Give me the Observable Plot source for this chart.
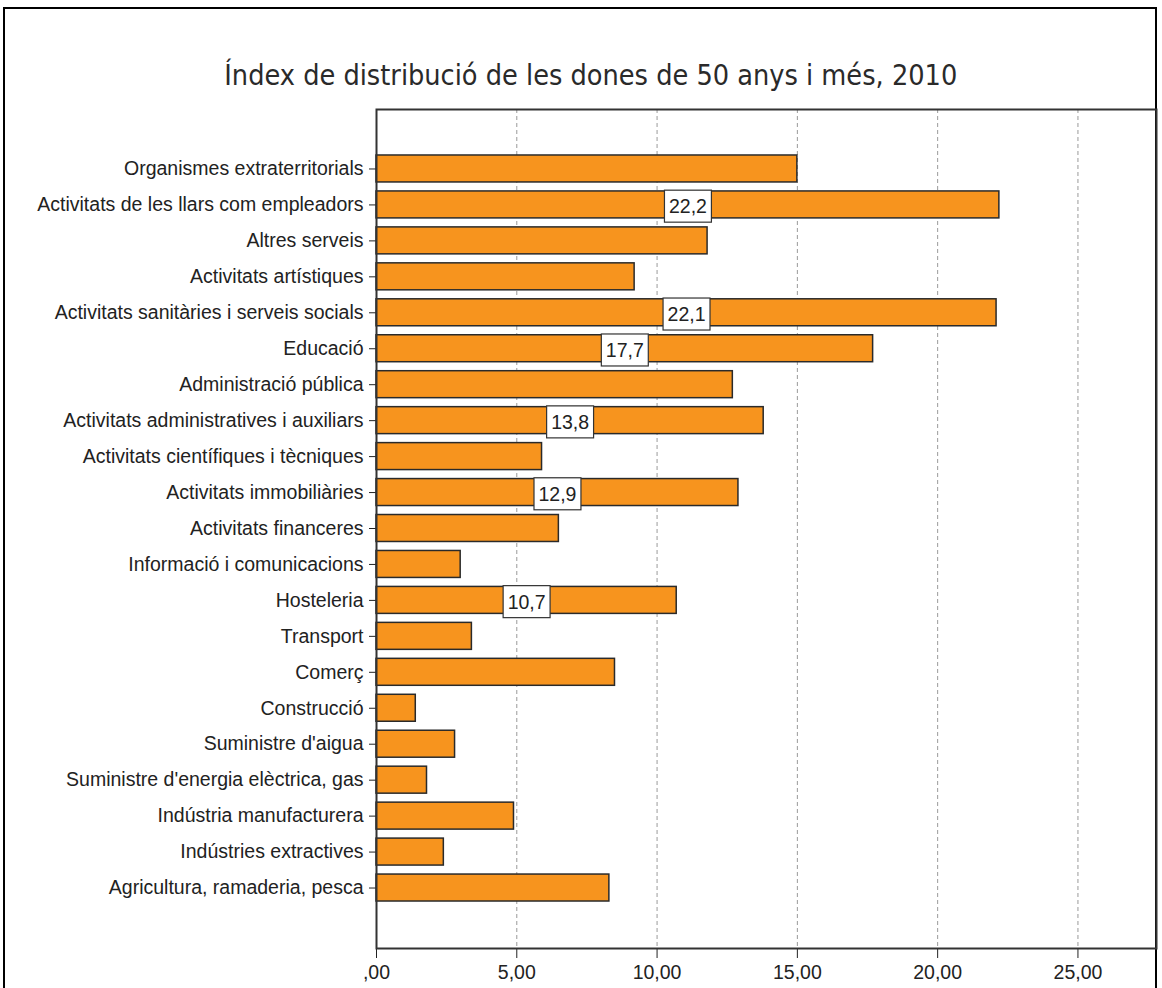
<!DOCTYPE html>
<html><head><meta charset="utf-8">
<script src="https://cdn.jsdelivr.net/npm/d3@7"></script>
<script src="https://cdn.jsdelivr.net/npm/@observablehq/plot@0.6"></script>
<style>
body{margin:0;background:#fff;}
#page{position:relative;width:1162px;height:988px;overflow:hidden;background:#fff;}
#border{position:absolute;left:3px;top:7px;width:1154px;height:1000px;border:2px solid #000;box-sizing:border-box;}
#titlewrap{position:absolute;left:0;top:58px;width:1181px;text-align:center;}
#title{display:inline-block;font-family:"DejaVu Sans",sans-serif;font-size:29px;line-height:34px;color:#2a2a2a;white-space:nowrap;transform-origin:center;}
#chart{position:absolute;left:0;top:98px;}
</style>
</head><body>
<div id="page">
<div id="border"></div>
<div id="titlewrap"><span id="title">Índex de distribució de les dones de 50 anys i més, 2010</span></div>
<div id="chart"></div>
</div>
<script>
const categories = [
  "Organismes extraterritorials",
  "Activitats de les llars com empleadors",
  "Altres serveis",
  "Activitats artístiques",
  "Activitats sanitàries i serveis socials",
  "Educació",
  "Administració pública",
  "Activitats administratives i auxiliars",
  "Activitats científiques i tècniques",
  "Activitats immobiliàries",
  "Activitats financeres",
  "Informació i comunicacions",
  "Hosteleria",
  "Transport",
  "Comerç",
  "Construcció",
  "Suministre d'aigua",
  "Suministre d'energia elèctrica, gas",
  "Indústria manufacturera",
  "Indústries extractives",
  "Agricultura, ramaderia, pesca"
];
const values = [15.0, 22.2, 11.8, 9.2, 22.1, 17.7, 12.7, 13.8, 5.9, 12.9, 6.5, 3.0, 10.7, 3.4, 8.5, 1.4, 2.8, 1.8, 4.9, 2.4, 8.3];
const labeledCategories = [
  "Activitats de les llars com empleadors",
  "Activitats sanitàries i serveis socials",
  "Educació",
  "Activitats administratives i auxiliars",
  "Activitats immobiliàries",
  "Hosteleria"
];
const xTicks = [0, 5, 10, 15, 20, 25];
const gridTicks = [5, 10, 15, 20, 25];

const data = categories.map((c, i) => ({category: c, value: values[i]}));
const labelData = data.filter(d => labeledCategories.includes(d.category));
const fmt = v => v === 0 ? ",00" : v.toFixed(2).replace(".", ",");
const fmt1 = v => v.toFixed(1).replace(".", ",");

const chart = Plot.plot({
  width: 1162,
  height: 890,
  marginLeft: 376,
  marginRight: 6,
  marginTop: 11,
  marginBottom: 40,
  style: {fontFamily: "'Liberation Sans', Arial, sans-serif", fontSize: "19.5px", color: "#222", background: "transparent"},
  x: {domain: [0, 27.8], ticks: xTicks, tickFormat: fmt, tickSize: 10, tickPadding: 7, label: null},
  y: {domain: categories, range: [48, 812], padding: 0.25, round: false, tickSize: 7, tickPadding: 6, label: null},
  marks: [
    Plot.ruleX(gridTicks, {stroke: "#9a9a9a", strokeDasharray: "4,3", strokeWidth: 1}),
    Plot.barX(data, {x: "value", y: "category", fill: "#F7941E", stroke: "#2a2a2a", strokeWidth: 1.5}),
    Plot.text(labelData, {x: d => d.value / 2, y: "category", text: d => fmt1(d.value), fill: "#222", fontSize: 19.5, dy: 2}),
    Plot.frame({stroke: "#333", strokeWidth: 2})
  ]
});
document.getElementById("chart").appendChild(chart);

// white boxes behind value labels
chart.querySelectorAll('g[aria-label="text"]').forEach(g => {
  g.querySelectorAll("text").forEach(t => {
    const b = t.getBBox();
    const r = document.createElementNS("http://www.w3.org/2000/svg", "rect");
    const tr = t.getAttribute("transform");
    if (tr) r.setAttribute("transform", tr);
    const w = b.width + 9, h = 32;
    r.setAttribute("x", b.x + b.width / 2 - w / 2);
    r.setAttribute("y", b.y + b.height / 2 - h / 2);
    r.setAttribute("width", w);
    r.setAttribute("height", h);
    r.setAttribute("fill", "#fff");
    r.setAttribute("stroke", "#333");
    r.setAttribute("stroke-width", "1.2");
    t.parentNode.insertBefore(r, t);
  });
});

// fit title width
const title = document.getElementById("title");
const tw = title.getBoundingClientRect().width;
title.style.transform = `scaleX(${733 / tw})`;
</script>
</body></html>
